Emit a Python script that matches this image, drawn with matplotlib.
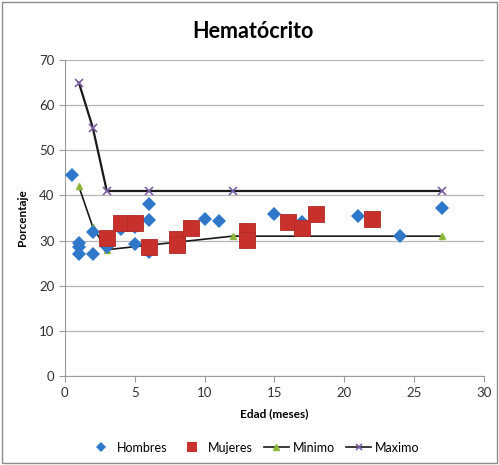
import matplotlib.pyplot as plt
from matplotlib.lines import Line2D
from matplotlib.patches import Rectangle

plt.rcParams['font.family'] = ['Lato', 'DejaVu Sans']

# Hematocrit readings by age
hombres_edad = [0.5, 1, 1, 1, 2, 2, 3, 4, 5, 5, 6, 6, 6, 10, 11, 15, 17, 21, 24, 27]
hombres_val = [44.5, 29.5, 28.5, 27.0, 27.0, 32.0, 28.5, 32.5, 33.0, 29.2, 38.2, 34.5, 27.5,
               34.8, 34.4, 35.9, 34.2, 35.4, 31.0, 37.3]

mujeres_edad = [3, 4, 5, 6, 8, 8, 9, 13, 13, 16, 17, 18, 22]
mujeres_val = [30.6, 33.9, 34.0, 28.7, 30.3, 29.0, 32.8, 32.2, 30.2, 34.1, 32.9, 35.9, 34.8]

ref_edad = [1, 2, 3, 6, 12, 27]
minimo = [42, 33, 28, 29, 31, 31]
maximo = [65, 55, 41, 41, 41, 41]

azul = '#2f77c9'
rojo = '#c8302c'
verde = '#8db83c'
morado = '#7a5ea8'

fig = plt.figure(figsize=(4.99, 4.65), dpi=100)
ax = fig.add_axes([0.130, 0.191, 0.840, 0.680])

ax.plot(hombres_edad, hombres_val, 'D', color=azul, markersize=7,
        markeredgewidth=0, zorder=3)
ax.plot(mujeres_edad, mujeres_val, 's', color=rojo, markersize=11,
        markeredgecolor='#b02a28', markeredgewidth=0.6, zorder=4)
ax.plot(ref_edad, minimo, '-^', color='#1a1a1a', linewidth=1.2, markersize=5,
        markerfacecolor=verde, markeredgecolor=verde, zorder=2)
ax.plot(ref_edad, maximo, '-x', color='#1a1a1a', linewidth=1.6, markersize=5.5,
        markeredgecolor=morado, markeredgewidth=1.2, zorder=2)

ax.set_xlim(0, 30)
ax.set_ylim(0, 70)
ax.set_xticks(range(0, 31, 5))
ax.set_yticks(range(0, 71, 10))
ax.grid(axis='y', color='#b5b5b5', linewidth=0.9)
ax.set_axisbelow(True)
for side in ['top', 'right']:
    ax.spines[side].set_visible(False)
for side in ['left', 'bottom']:
    ax.spines[side].set_color('#9a9a9a')
ax.tick_params(colors='#9a9a9a', labelcolor='#333333', labelsize=9.5, length=4, direction='out')

fig.text(0.507, 0.933, 'Hematócrito', fontsize=15.5, fontweight='bold', ha='center', va='center')
ax.set_xlabel('Edad (meses)', fontsize=8.5, fontweight='bold', labelpad=7)
ax.set_ylabel('Porcentaje', fontsize=8.5, fontweight='bold', labelpad=8)

# legend with smaller markers than the plot
handles = [
    Line2D([], [], linestyle='none', marker='D', color=azul, markersize=5, markeredgewidth=0),
    Line2D([], [], linestyle='none', marker='s', color=rojo, markersize=7.5, markeredgewidth=0),
    Line2D([], [], color='#1a1a1a', linewidth=1.2, marker='^', markersize=5,
           markerfacecolor=verde, markeredgecolor=verde),
    Line2D([], [], color='#1a1a1a', linewidth=1.2, marker='x', markersize=5,
           markeredgecolor=morado, markeredgewidth=1.2),
]
fig.legend(handles, ['Hombres', 'Mujeres', 'Minimo', 'Maximo'], loc='lower center',
           bbox_to_anchor=(0.509, 0.0), ncol=4, frameon=False,
           fontsize=9, handlelength=2.0, columnspacing=0.9, handletextpad=0.3)

# chart border
fig.patches.append(Rectangle((0.004, 0.004), 0.992, 0.992, transform=fig.transFigure,
                             fill=False, edgecolor='#8c8c8c', linewidth=1))

fig.savefig('out.png', dpi=100)
